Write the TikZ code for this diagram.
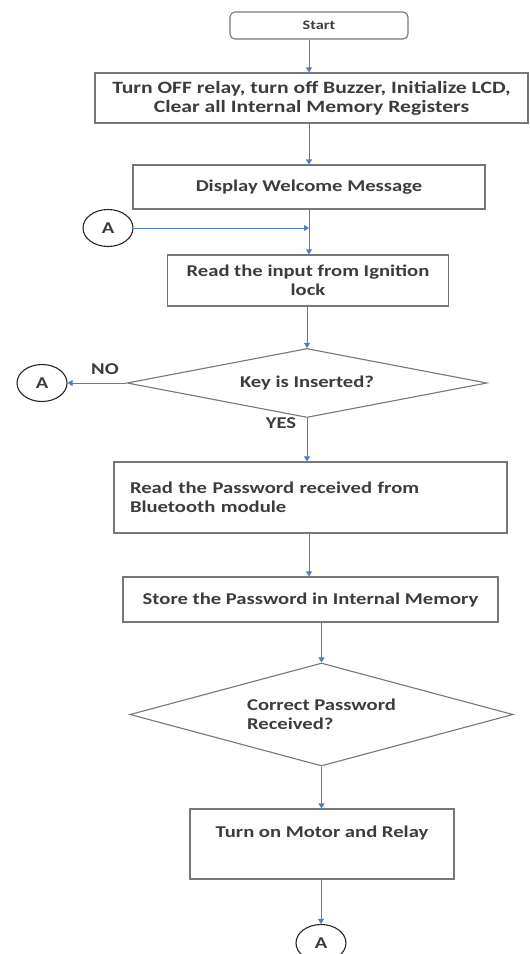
\documentclass[tikz,border=0pt]{standalone}
\usepackage{fontspec}
\setmainfont{Carlito}[FakeStretch=1.25]
\usetikzlibrary{shapes.geometric,arrows.meta}
\definecolor{flowblue}{RGB}{84,124,186}
\definecolor{boxgray}{RGB}{118,118,118}
\definecolor{txtgray}{RGB}{60,60,60}

\begin{document}
\begin{tikzpicture}[x=1pt, y=-1pt, text=txtgray,
    font=\bfseries\fontsize{16.5}{19}\selectfont,
    box/.style={rectangle, draw=boxgray, line width=1.1pt, inner sep=0pt, align=center},
    decision/.style={diamond, draw=boxgray, line width=1.1pt, inner sep=0pt, align=left},
    connector/.style={ellipse, draw=black!85, line width=1.1pt, minimum width=50pt, minimum height=37pt, inner sep=0pt},
    flow/.style={draw=flowblue, line width=0.9pt, -{Triangle[width=6pt,length=5pt]}}]
    \useasboundingbox (0,0) rectangle (530,954);

    \node[box, rounded corners=5pt, minimum width=178pt, minimum height=27pt, font=\bfseries\fontsize{13}{15}\selectfont] (start) at (319,25.5) {Start};
    \node[box, minimum width=433pt, minimum height=50pt, font=\bfseries\fontsize{17.3}{19}\selectfont] (init) at (311.5,98) {Turn OFF relay, turn off Buzzer, Initialize LCD,\\Clear all Internal Memory Registers};
    \node[box, minimum width=352pt, minimum height=44pt] (welcome) at (309,187) {Display Welcome Message};
    \node[connector] (a1) at (108,228) {A};
    \coordinate (join) at (welcome.south |- a1);
    \node[box, minimum width=281pt, minimum height=51pt] (read) at (308,280.5) {Read the input from Ignition\\lock};
    \node[decision, aspect=5.2, minimum width=360pt, minimum height=69pt] (key) at (307,383) {Key is Inserted?};
    \node[connector] (a2) at (42,383) {A};
    \node (no) at (105,369) {NO};
    \node (yes) at (281,423) {YES};
    \node[box, minimum width=393pt, minimum height=71pt, text width=361pt, inner xsep=16pt, align=left] (pass) at (310.5,497.5) {Read the Password received from\\Bluetooth module\\[4pt]};
    \node[box, minimum width=375pt, minimum height=45pt] (store) at (310.5,599.5) {Store the Password in Internal Memory};
    \node[decision, aspect=3.7, minimum width=383pt, minimum height=103pt] (pwd) at (321.5,714.5) {Correct Password\\Received?};
    \node[box, minimum width=264pt, minimum height=70pt] (motor) at (322,844) {Turn on Motor and Relay\\[6pt]};
    \node[connector] (a3) at (321,943) {A};

    \draw[flow] (start.south -| welcome) -- (init.north -| welcome);
    \draw[flow] (init.south -| welcome) -- (welcome.north);
    \draw[flow] (welcome.south) -- (read.north -| welcome.south);
    \draw[flow] (a1.east) -- (join);
    \draw[flow] (read.south -| key) -- (key.north);
    \draw[flow] (key.west) -- (a2.east);
    \draw[flow] (key.south) -- (pass.north -| key.south);
    \draw[flow] (pass.south -| welcome) -- (store.north -| welcome);
    \draw[flow] (store.south -| pwd) -- (pwd.north);
    \draw[flow] (pwd.south) -- (motor.north -| pwd.south);
    \draw[flow] (motor.south -| a3) -- (a3.north);
\end{tikzpicture}
\end{document}
